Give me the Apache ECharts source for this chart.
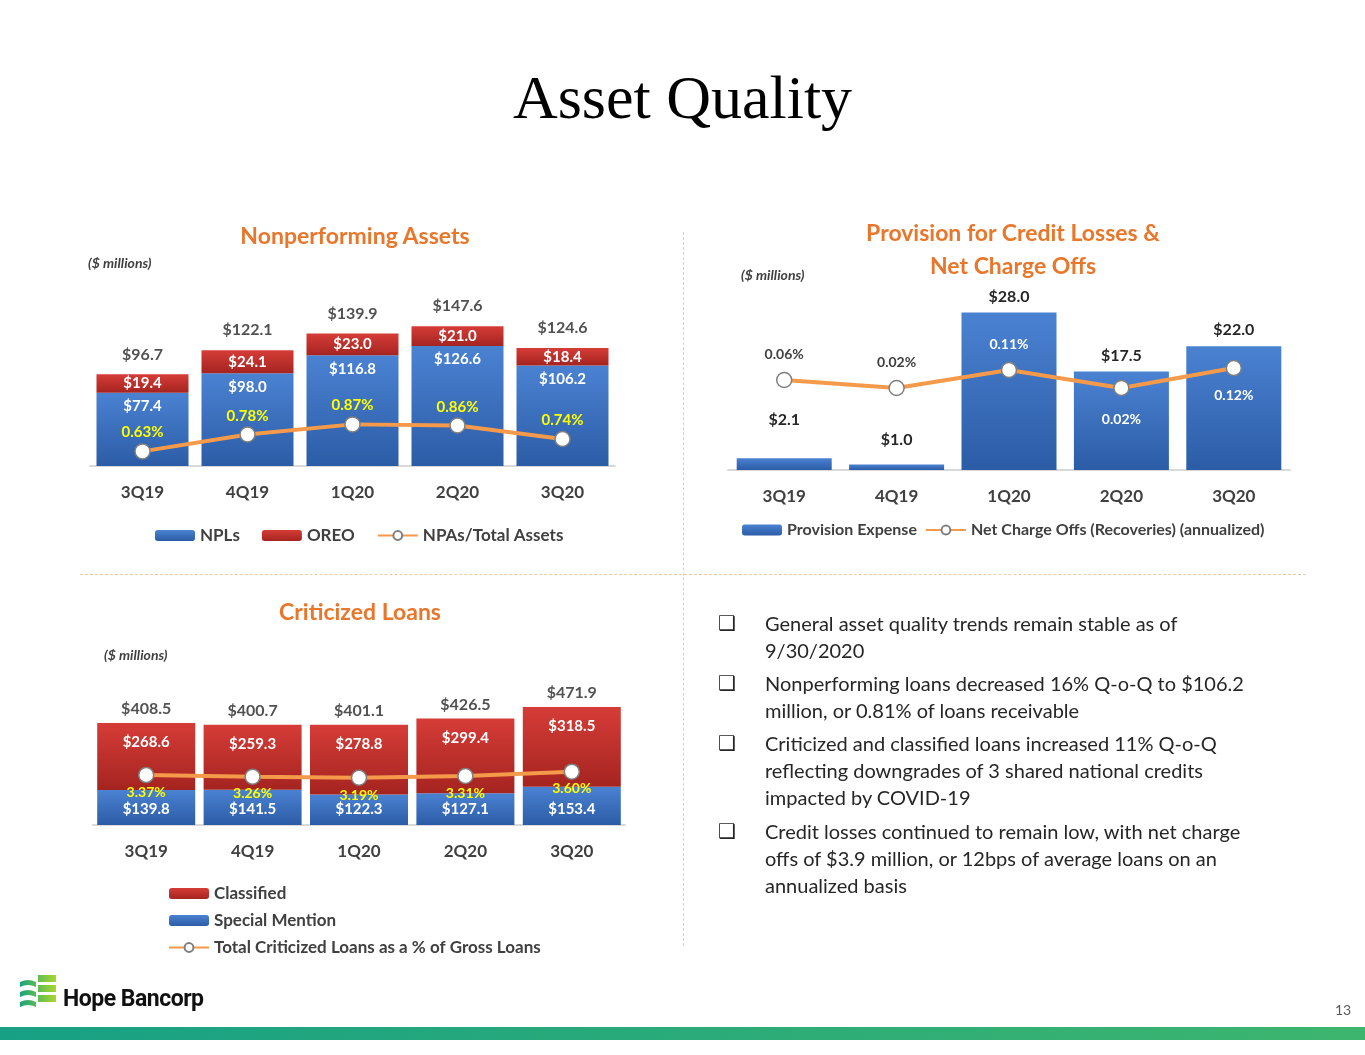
<!DOCTYPE html>
<html><head><meta charset="utf-8">
<script src="https://cdn.jsdelivr.net/npm/echarts@6/dist/echarts.min.js"></script>
<style>
body{margin:0;width:1365px;height:1055px;position:relative;background:#fff;font-family:Lato,"Open Sans",sans-serif;overflow:hidden}
.t{position:absolute;white-space:nowrap}
#c{position:absolute;left:0;top:0;width:1365px;height:1055px}
.ot{color:#e8762b;font-weight:bold;font-size:23px;text-align:center}
.mu{font-style:italic;font-weight:bold;font-size:14px;color:#404040}
.bl{position:absolute;left:718px;font-size:20px;color:#262626;line-height:27px}
.bl span.b{position:absolute;left:0;font-family:"DejaVu Sans"}
.bl div{margin-left:47px;width:505px}
</style></head><body>
<div id="c"></div>
<div class="t" style="left:0;width:1365px;text-align:center;top:62px;font-family:'Liberation Serif',serif;font-size:62px;color:#000">Asset Quality</div>
<div class="t ot" style="left:210px;width:290px;top:221px">Nonperforming Assets</div>
<div class="t ot" style="left:813px;width:400px;top:216px;line-height:33px">Provision for Credit Losses &amp;<br>Net Charge Offs</div>
<div class="t ot" style="left:220px;width:280px;top:597px">Criticized Loans</div>
<div class="t mu" style="left:88px;top:254px">($ millions)</div>
<div class="t mu" style="left:741px;top:266px">($ millions)</div>
<div class="t mu" style="left:104px;top:646px">($ millions)</div>
<div class="bl" style="top:610px"><span class="b">❑</span><div>General asset quality trends remain stable as of 9/30/2020</div></div>
<div class="bl" style="top:670px"><span class="b">❑</span><div>Nonperforming loans decreased 16% Q-o-Q to $106.2 million, or 0.81% of loans receivable</div></div>
<div class="bl" style="top:730px"><span class="b">❑</span><div>Criticized and classified loans increased 11% Q-o-Q reflecting downgrades of 3 shared national credits impacted by COVID-19</div></div>
<div class="bl" style="top:818px"><span class="b">❑</span><div>Credit losses continued to remain low, with net charge offs of $3.9 million, or 12bps of average loans on an annualized basis</div></div>
<div class="t" style="left:1335px;top:1001px;font-size:14px;color:#595959">13</div>
<div class="t" style="left:63px;top:985px;font-family:Roboto,sans-serif;font-weight:bold;font-size:23px;color:#111;letter-spacing:-0.5px">Hope Bancorp</div>
<svg style="position:absolute;left:18px;top:972px" width="40" height="40">
<defs><linearGradient id="lg" x1="0" x2="1"><stop offset="0" stop-color="#1aa37a"/><stop offset="1" stop-color="#a8d62e"/></linearGradient></defs>
<path d="M2 10 Q10 6 18 10 L18 15 Q10 11 2 15Z M20 3 h18 v7 h-18Z M2 20 Q10 16 18 20 L18 25 Q10 21 2 25Z M20 13 h18 v7 h-18Z M2 30 Q10 26 18 30 L18 35 Q10 31 2 35Z M20 23 h18 v7 h-18Z" fill="url(#lg)"/>
</svg>
<div style="position:absolute;left:0;top:1027px;width:1365px;height:13px;background:linear-gradient(90deg,#17a084,#3db56e)"></div>
<div style="position:absolute;left:683px;top:232px;height:714px;border-left:1px dashed #f3c9a3"></div>
<div style="position:absolute;left:80px;top:574px;width:1226px;border-top:1px dashed #f3c9a3"></div>
<script>
const cats = ['3Q19','4Q19','1Q20','2Q20','3Q20'];
const npl = [77.4, 98.0, 116.8, 126.6, 106.2];
const oreo = [19.4, 24.1, 23.0, 21.0, 18.4];
const npaTotal = [96.7, 122.1, 139.9, 147.6, 124.6];
const npaPct = [0.63, 0.78, 0.87, 0.86, 0.74];
const provision = [2.1, 1.0, 28.0, 17.5, 22.0];
const nco = [0.06, 0.02, 0.11, 0.02, 0.12];
const classified = [268.6, 259.3, 278.8, 299.4, 318.5];
const specialMention = [139.8, 141.5, 122.3, 127.1, 153.4];
const critTotal = [408.5, 400.7, 401.1, 426.5, 471.9];
const critPct = [3.37, 3.26, 3.19, 3.31, 3.60];

const F = 'Lato, "Open Sans", sans-serif';
const dk = '#404040';
const blue = new echarts.graphic.LinearGradient(0,0,0,1,[{offset:0,color:'#4a82d2'},{offset:1,color:'#2c5ca6'}]);
const red = new echarts.graphic.LinearGradient(0,0,0,1,[{offset:0,color:'#d63c37'},{offset:1,color:'#a52420'}]);
const orange = '#f59a4a';
const lbl = (c, s) => ({show:true, color:c, fontFamily:F, fontWeight:'bold', fontSize:s||15});
const money = p => '$' + Number(p.value).toFixed(1);
const pct = p => Number(p.value).toFixed(2) + '%';
const xa = (i) => ({type:'category', gridIndex:i, data:cats, axisTick:{show:false},
  axisLine:{lineStyle:{color:'#d9d9d9', width:2}},
  axisLabel:{color:dk, fontFamily:F, fontWeight:'bold', fontSize:17, margin:18}});
const ya = (i,min,max) => ({type:'value', gridIndex:i, min:min, max:max, show:false, splitLine:{show:false}});
const lineS = (name, xi, yi, data, label) => ({name, type:'line', xAxisIndex:xi, yAxisIndex:yi, data,
  symbol:'circle', symbolSize:15, lineStyle:{color:orange, width:4}, itemStyle:{color:'#fff', borderColor:'#7f7f7f', borderWidth:1.5},
  label, z:5});

const chart = echarts.init(document.getElementById('c'));
chart.setOption({
  animation:false,
  grid:[
    {left:90, width:525, top:286, height:180},
    {left:728, width:562, top:290, height:180},
    {left:93, width:532, top:705, height:120}
  ],
  xAxis:[xa(0), xa(0), xa(1), xa(1), xa(2), xa(2)].map((a,i)=>{ if(i%2) {a.show=false;} return a;}),
  yAxis:[ya(0,0,190), ya(0,0.5,2.1), ya(1,0,32), ya(1,-0.39,0.51), ya(2,0,480), ya(2,0,8.1)],
  legend:[
    {left:150, top:522, itemWidth:40, itemHeight:11, itemGap:22, textStyle:{color:dk, fontFamily:F, fontWeight:'bold', fontSize:17},
     data:['NPLs','OREO','NPAs/Total Assets']},
    {left:737, top:517, itemWidth:40, itemHeight:11, itemGap:8, textStyle:{color:dk, fontFamily:F, fontWeight:'bold', fontSize:16},
     data:['Provision Expense','Net Charge Offs (Recoveries) (annualized)']},
    {left:163, top:880, orient:'vertical', itemWidth:40, itemHeight:11, itemGap:10, textStyle:{color:dk, fontFamily:F, fontWeight:'bold', fontSize:17},
     data:['Classified','Special Mention','Total Criticized Loans as a % of Gross Loans']}
  ],
  series:[
    {name:'NPLs', type:'bar', stack:'a', xAxisIndex:0, yAxisIndex:0, data:npl, barWidth:92, itemStyle:{color:blue},
     label:Object.assign(lbl('#fff'),{position:'insideTop', distance:6, formatter:money})},
    {name:'OREO', type:'bar', stack:'a', xAxisIndex:0, yAxisIndex:0, data:oreo, itemStyle:{color:red},
     label:Object.assign(lbl('#fff'),{position:'inside', formatter:money})},
    {type:'scatter', xAxisIndex:0, yAxisIndex:0, data:npaTotal, symbolSize:0, silent:true,
     label:Object.assign(lbl('#262626',16),{position:'top', distance:12, formatter:money})},
    lineS('NPAs/Total Assets', 0, 1, npaPct, Object.assign(lbl('#ffff00'),{position:'top', distance:3, formatter:pct})),

    {name:'Provision Expense', type:'bar', xAxisIndex:2, yAxisIndex:2, barWidth:95, itemStyle:{color:blue},
     data:provision.map((v,i)=>({value:v, label:{distance:[30,17,8,8,8][i]}})),
     label:Object.assign(lbl('#262626',16),{position:'top', formatter:money})},
    lineS('Net Charge Offs (Recoveries) (annualized)', 2, 3,
     nco.map((v,i)=>({value:v, label:[
       {position:'top', offset:[0,-2], color:dk},
       {position:'top', offset:[0,-2], color:dk},
       {position:'top', offset:[0,-2], color:'#fff'},
       {position:'bottom', offset:[0,8], color:'#fff'},
       {position:'bottom', offset:[0,4], color:'#fff'}][i]})),
     Object.assign(lbl(dk,14),{formatter:pct, distance:8})),

    {name:'Special Mention', type:'bar', stack:'c', xAxisIndex:4, yAxisIndex:4, data:specialMention, barWidth:98, itemStyle:{color:blue},
     label:Object.assign(lbl('#fff'),{position:'insideBottom', distance:8, formatter:money})},
    {name:'Classified', type:'bar', stack:'c', xAxisIndex:4, yAxisIndex:4, data:classified, itemStyle:{color:red},
     label:Object.assign(lbl('#fff'),{position:'insideTop', distance:12, formatter:money})},
    {type:'scatter', xAxisIndex:4, yAxisIndex:4, data:critTotal, symbolSize:0, silent:true,
     label:Object.assign(lbl('#262626',16),{position:'top', distance:6, formatter:money})},
    lineS('Total Criticized Loans as a % of Gross Loans', 4, 5, critPct, Object.assign(lbl('#ffff00',14),{position:'bottom', distance:2, formatter:pct}))
  ]
});
</script></body></html>
